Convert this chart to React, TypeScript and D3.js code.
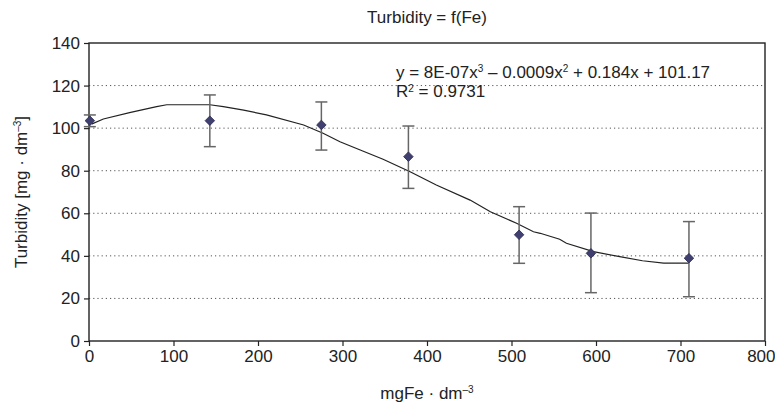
import { useEffect, useRef } from "react";
import * as d3 from "d3";

const width = 775;
const height = 409;
const marginLeft = 89;
const marginRight = 10;
const marginTop = 43;
const marginBottom = 68;

// measured points (mgFe/dm3 vs turbidity) with error bar ends
const feDose = [1, 143, 275, 378, 509, 594, 710];
const turbidity = [103.5, 103.5, 101.5, 86.6, 49.9, 41.2, 38.9];
const errTop = [106.2, 115.6, 112.3, 101, 63.1, 60.1, 56.1];
const errBottom = [100.7, 91.3, 89.7, 71.7, 36.5, 22.7, 20.8];

// trend line as drawn
const trendX = [3, 17, 48, 80, 92, 143, 159, 183, 210, 254, 277, 297, 321, 348, 380, 411, 451, 475, 506, 526, 534, 557, 565, 597, 628, 655, 680, 710];
const trendY = [101.9, 104.3, 107.3, 110.1, 111, 111, 110.1, 108.5, 106.2, 101.5, 97.6, 93.6, 89.7, 85.4, 79.5, 73.3, 66.2, 60.7, 55.3, 51.3, 50.6, 47.8, 45.9, 42, 39.6, 37.7, 36.6, 36.6];

const xTicks = [0, 100, 200, 300, 400, 500, 600, 700, 800];
const yTicks = [0, 20, 40, 60, 80, 100, 120, 140];
const gridTicks = [20, 40, 60, 80, 100, 120];

const font = "'Liberation Sans', Arial, sans-serif";

const App = () => {
  const xRef = useRef<SVGGElement>(null);
  const yRef = useRef<SVGGElement>(null);

  const chartBottomY = height - marginBottom;
  const chartRightX = width - marginRight;

  const xScale = d3.scaleLinear().domain([0, 800]).range([marginLeft, chartRightX]);
  const yScale = d3.scaleLinear().domain([0, 140]).range([chartBottomY, marginTop]);

  const trendLine = d3
    .line<number>()
    .x((d) => xScale(d))
    .y((_, i) => yScale(trendY[i]));

  useEffect(() => {
    const xAxis = d3.axisBottom(xScale).tickValues(xTicks).tickSize(5).tickSizeOuter(0).tickPadding(4);
    const yAxis = d3.axisLeft(yScale).tickValues(yTicks).tickSize(5).tickSizeOuter(0).tickPadding(4);
    const gx = d3.select(xRef.current).call(xAxis);
    const gy = d3.select(yRef.current).call(yAxis);
    [gx, gy].forEach((g) => {
      g.select(".domain").remove();
      g.selectAll("line").attr("stroke", "#222").attr("stroke-width", 1.2);
      g.selectAll("text")
        .attr("font-size", "17px")
        .attr("font-family", font)
        .attr("fill", "#222");
    });
    // keep the last label inside the picture
    gx.selectAll<SVGTextElement, number>("text")
      .filter((d) => d === 800)
      .attr("text-anchor", "end")
      .attr("dx", 10);
  }, []);

  return (
    <div style={{ position: "absolute", left: 0, top: 0 }}>
      <svg width={width} height={height} viewBox={`0 0 ${width} ${height}`} style={{ display: "block", background: "#fff" }}>
        <text x={(marginLeft + chartRightX) / 2} y={23} textAnchor="middle" fontSize={17} fontFamily={font} fill="#222">
          Turbidity = f(Fe)
        </text>

        {gridTicks.map((t) => (
          <line
            key={t}
            x1={marginLeft}
            x2={chartRightX}
            y1={yScale(t)}
            y2={yScale(t)}
            stroke="#555"
            strokeWidth={1}
            strokeDasharray="1.2,3"
          />
        ))}

        <rect
          x={marginLeft}
          y={marginTop}
          width={chartRightX - marginLeft}
          height={chartBottomY - marginTop}
          fill="none"
          stroke="#222"
          strokeWidth={1.4}
        />

        <g ref={xRef} transform={`translate(0,${chartBottomY})`}></g>
        <g ref={yRef} transform={`translate(${marginLeft},0)`}></g>

        <path d={trendLine(trendX) ?? ""} fill="none" stroke="#222" strokeWidth={1.2} />

        {feDose.map((x, i) => (
          <g key={i} stroke="#666" strokeWidth={1.5}>
            <line x1={xScale(x)} x2={xScale(x)} y1={yScale(errTop[i])} y2={yScale(errBottom[i])} />
            <line x1={xScale(x) - 6} x2={xScale(x) + 6} y1={yScale(errTop[i])} y2={yScale(errTop[i])} />
            <line x1={xScale(x) - 6} x2={xScale(x) + 6} y1={yScale(errBottom[i])} y2={yScale(errBottom[i])} />
          </g>
        ))}

        {feDose.map((x, i) => (
          <path
            key={i}
            transform={`translate(${xScale(x)},${yScale(turbidity[i])})`}
            d={d3.symbol(d3.symbolDiamond2, 58)() ?? ""}
            fill="#404070"
            stroke="#2a2a50"
            strokeWidth={0.8}
          />
        ))}

        <text x={396} y={78} fontSize={17} fontFamily={font} fill="#222">
          y = 8E-07x<tspan dy={-6} fontSize={10}>3</tspan>
          <tspan dy={6}> – 0.0009x</tspan>
          <tspan dy={-6} fontSize={10}>2</tspan>
          <tspan dy={6}> + 0.184x + 101.17</tspan>
        </text>
        <text x={396} y={97} fontSize={17} fontFamily={font} fill="#222">
          R<tspan dy={-5} fontSize={10}>2</tspan>
          <tspan dy={5}> = 0.9731</tspan>
        </text>

        <text
          transform={`translate(27,${(marginTop + chartBottomY) / 2}) rotate(-90)`}
          textAnchor="middle"
          fontSize={17}
          fontFamily={font}
          fill="#222"
        >
          Turbidity [mg · dm<tspan dy={-6} fontSize={10}>–3</tspan>
          <tspan dy={6}>]</tspan>
        </text>

        <text x={(marginLeft + chartRightX) / 2} y={399} textAnchor="middle" fontSize={17} fontFamily={font} fill="#222">
          mgFe · dm<tspan dy={-6} fontSize={10}>–3</tspan>
        </text>
      </svg>
    </div>
  );
};

export default App;
